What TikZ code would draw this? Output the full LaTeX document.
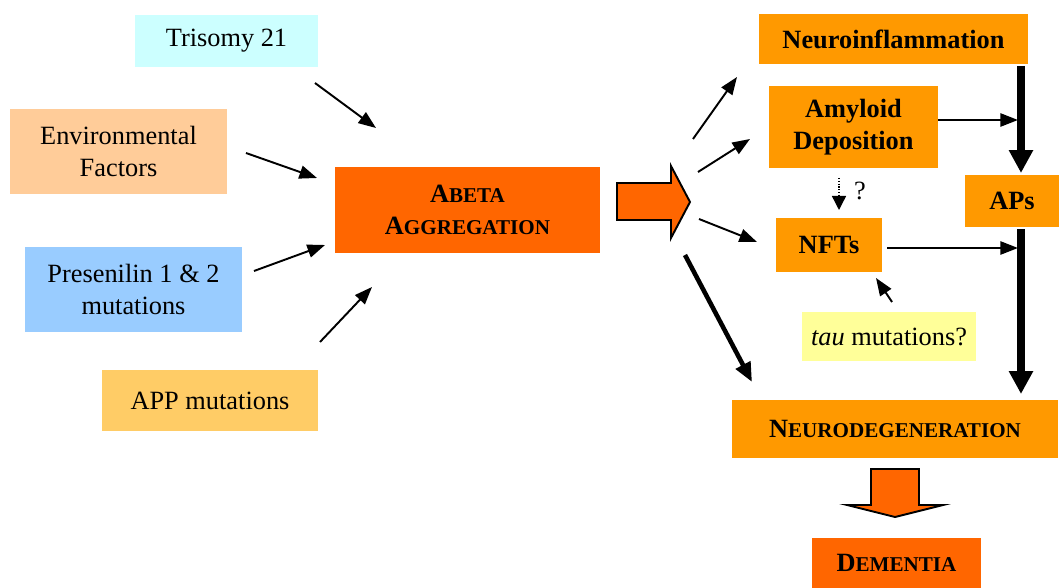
\documentclass[tikz,border=0pt]{standalone}
\usepackage{fontspec}
\setmainfont{Liberation Serif}
\usepackage{tikz}
\usetikzlibrary{arrows.meta}
\usetikzlibrary{shapes}
\definecolor{trisomyc}{HTML}{CCFFFF}
\definecolor{envc}{HTML}{FFCC99}
\definecolor{psenc}{HTML}{99CCFF}
\definecolor{appc}{HTML}{FFCC66}
\definecolor{abetac}{HTML}{FF6600}
\definecolor{effectc}{HTML}{FF9900}
\definecolor{tauc}{HTML}{FFFF99}
\newcommand \smallcap [2] {#1{\fontsize{12}{18}\selectfont #2}}
\tikzstyle{cause}=[rectangle,inner sep=0mm,align=center,font=\fontsize{15}{18}\selectfont]
\tikzstyle{effect}=[rectangle,fill=effectc,inner sep=0mm,align=center,font=\fontsize{15}{18}\selectfont\bfseries]
\tikzstyle{arr}=[-{Triangle[length=10pt,width=7.5pt]},line width=1.1pt]
\tikzstyle{thickarr}=[-{Triangle[length=11pt,width=9pt]},line width=2.6pt]
\tikzstyle{bararr}=[-{Triangle[length=13pt,width=13pt]},line width=4.2pt]
\tikzstyle{blockarr}=[draw=black,fill=abetac,line width=1.1pt,line join=miter]
\tikzset{every picture/.style={
    x=0.02cm,y=-0.02cm
  }
}

\begin{document}
\begin{tikzpicture}
      \useasboundingbox (0,0) rectangle (1059,588);
      % causes
      \node[cause,fill=trisomyc,minimum width=3.66cm,minimum height=1.04cm] at (226.5,41) (tri) {Trisomy 21};
      \node[cause,fill=envc,minimum width=4.34cm,minimum height=1.70cm] at (118.5,151.5) (env) {Environmental\\Factors};
      \node[cause,fill=psenc,minimum width=4.34cm,minimum height=1.70cm] at (133.5,289.5) (psen) {Presenilin 1 \& 2\\mutations};
      \node[cause,fill=appc,minimum width=4.32cm,minimum height=1.22cm] at (210,400.5) (app) {APP mutations};
      \node[effect,fill=abetac,minimum width=5.30cm,minimum height=1.72cm] at (467.5,210) (abeta) {\smallcap{A}{BETA}\\\smallcap{A}{GGREGATION}};
      % effects
      \node[effect,minimum width=5.38cm,minimum height=1.00cm] at (893.5,39) (infl) {Neuroinflammation};
      \node[effect,minimum width=3.38cm,minimum height=1.64cm] at (853.5,127) (amyl) {Amyloid\\Deposition};
      \node[effect,minimum width=1.88cm,minimum height=1.04cm] at (1012,201) (aps) {APs};
      \node[effect,minimum width=2.12cm,minimum height=1.08cm] at (829,245) (nfts) {NFTs};
      \node[cause,fill=tauc,minimum width=3.48cm,minimum height=0.98cm] at (889,336.5) (tau) {\textit{tau} mutations?};
      \node[effect,minimum width=6.52cm,minimum height=1.16cm] at (895,429) (ndeg) {\smallcap{N}{EURODEGENERATION}};
      \node[effect,fill=abetac,minimum width=3.38cm,minimum height=1.00cm] at (896.5,563) (dem) {\smallcap{D}{EMENTIA}};
      \node[cause,inner sep=0pt] at (860,191) (q) {?};
      % arrow ends
      \coordinate (tri-a) at (315,83);  \coordinate (tri-b) at (376,128);
      \coordinate (env-a) at (246,153); \coordinate (env-b) at (317,178);
      \coordinate (psen-a) at (254,271); \coordinate (psen-b) at (325,245);
      \coordinate (app-a) at (320,342); \coordinate (app-b) at (372,287);
      \coordinate (infl-a) at (693,139); \coordinate (infl-b) at (737,77);
      \coordinate (amyl-a) at (698,172); \coordinate (amyl-b) at (750,139);
      \coordinate (nfts-a) at (699,219); \coordinate (nfts-b) at (757,242);
      \coordinate (ndeg-a) at (685,255); \coordinate (ndeg-b) at (752,382);
      \coordinate (q-a) at (839,178); \coordinate (q-b) at (839,210);
      \coordinate (amyl-c) at (938,120); \coordinate (bar-a) at (1018,120);
      \coordinate (nfts-c) at (887,248); \coordinate (bar-b) at (1018,248);
      \coordinate (infl-c) at (1021,66); \coordinate (aps-a) at (1021,173);
      \coordinate (aps-c) at (1021,229); \coordinate (ndeg-c) at (1021,394);
      \coordinate (tau-a) at (892,302); \coordinate (tau-b) at (876,278);
      \draw[arr] (tri-a) -- (tri-b);
      \draw[arr] (env-a) -- (env-b);
      \draw[arr] (psen-a) -- (psen-b);
      \draw[arr] (app-a) -- (app-b);
      \draw[arr] (infl-a) -- (infl-b);
      \draw[arr] (amyl-a) -- (amyl-b);
      \draw[arr] (nfts-a) -- (nfts-b);
      \draw[thickarr] (ndeg-a) -- (ndeg-b);
      \draw[arr,line width=0.8pt,dash pattern=on 0.7pt off 0.9pt,-{Triangle[length=8pt,width=8pt]}] (q-a) -- (q-b);
      \draw[arr] (amyl-c) -- (bar-a);
      \draw[arr] (nfts-c) -- (bar-b);
      \draw[bararr] (infl-c) -- (aps-a);
      \draw[bararr] (aps-c) -- (ndeg-c);
      \draw[arr] (tau-a) -- (tau-b);
      % block arrows
      \draw[blockarr] (617,183) -- (671,183) -- (671,166) -- (690,202) -- (671,238) -- (671,220) -- (617,220) -- cycle;
      \draw[blockarr] (871,469) -- (919,469) -- (919,505) -- (943,505) -- (895,517) -- (847,505) -- (871,505) -- cycle;
    \end{tikzpicture}
\end{document}
